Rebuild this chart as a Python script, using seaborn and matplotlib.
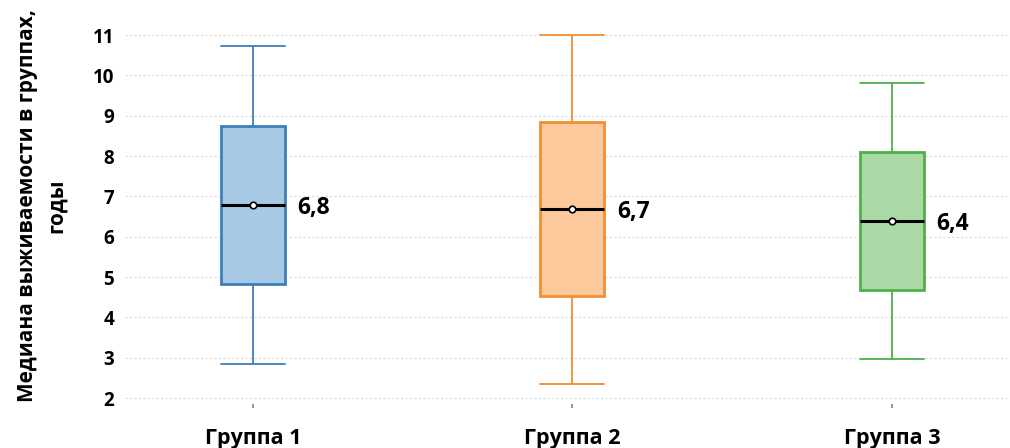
import matplotlib
matplotlib.use("Agg")
import matplotlib.pyplot as plt
import seaborn as sns
import pandas as pd
import numpy as np

groups = ["Группа 1", "Группа 2", "Группа 3"]
# five-number summaries: low whisker, Q1, median, Q3, high whisker
g1 = [2.85, 4.83, 6.8, 8.75, 10.72]
g2 = [2.35, 4.53, 6.7, 8.85, 11.0]
g3 = [2.97, 4.68, 6.4, 8.1, 9.81]
fills = ["#a7c9e4", "#fdc99c", "#aad9a5"]
edges = ["#3b80ba", "#f28f33", "#4fb04a"]

sns.set_theme(style="white")
plt.rcParams["font.family"] = ["Open Sans", "DejaVu Sans"]

df = pd.DataFrame({
    "group": np.repeat(groups, 5),
    "value": g1 + g2 + g3,
})

fig = plt.figure(figsize=(10.10, 4.48), dpi=100)
ax = fig.add_axes([0.124, 0.098, 0.876, 0.837])

for g, fc, ec in zip(groups, fills, edges):
    sub = df[df["group"] == g]
    sns.boxplot(data=sub, x="group", y="value", order=groups, color=fc,
                linecolor=ec, width=0.2, whis=(0, 100), showfliers=False,
                saturation=1, ax=ax,
                boxprops=dict(linewidth=2.0, edgecolor=ec, facecolor=fc),
                whiskerprops=dict(linewidth=1.3, color=ec),
                capprops=dict(linewidth=1.3, color=ec),
                medianprops=dict(linewidth=2.2, color="black"))

# make caps as wide as the box
for line in ax.lines:
    xd = np.asarray(line.get_xdata(), dtype=float)
    yd = np.asarray(line.get_ydata(), dtype=float)
    if len(xd) == 2 and yd[0] == yd[1] and line.get_color() != "black":
        c = xd.mean()
        line.set_xdata([c - 0.1, c + 0.1])

medians = df.groupby("group", sort=False)["value"].median()
xs = np.arange(len(groups))
ax.scatter(xs, medians.values, s=22, facecolor="white", edgecolor="black",
           linewidth=1.2, zorder=5)
for x, m in zip(xs, medians.values):
    ax.text(x + 0.14, m - 0.08, f"{m:.1f}".replace(".", ","), ha="left", va="center",
            fontsize=16.5, fontweight="bold", color="black")

ax.set_ylim(1.85, 11.15)
ax.set_xlim(-0.4, 2.37)
ax.set_yticks(range(2, 12))
ax.grid(axis="y", linestyle=(0, (2, 2)), color="#dadada", linewidth=0.8)
ax.set_axisbelow(True)
for s in ax.spines.values():
    s.set_visible(False)
ax.tick_params(axis="y", length=0, labelsize=13.5, pad=8, labelcolor="black")
ax.tick_params(axis="x", length=3, width=1.5, color="#999999", labelsize=15.5,
               pad=14, bottom=True, labelcolor="black")
for lab in ax.get_yticklabels() + ax.get_xticklabels():
    lab.set_fontweight("bold")
ax.set_xlabel("")
ax.set_ylabel("Медиана выживаемости в группах,\nгоды", fontsize=15, fontweight="bold",
              color="black", linespacing=1.5)
ax.yaxis.set_label_coords(-0.066, 0.53)

fig.savefig("out.png", dpi=100)
